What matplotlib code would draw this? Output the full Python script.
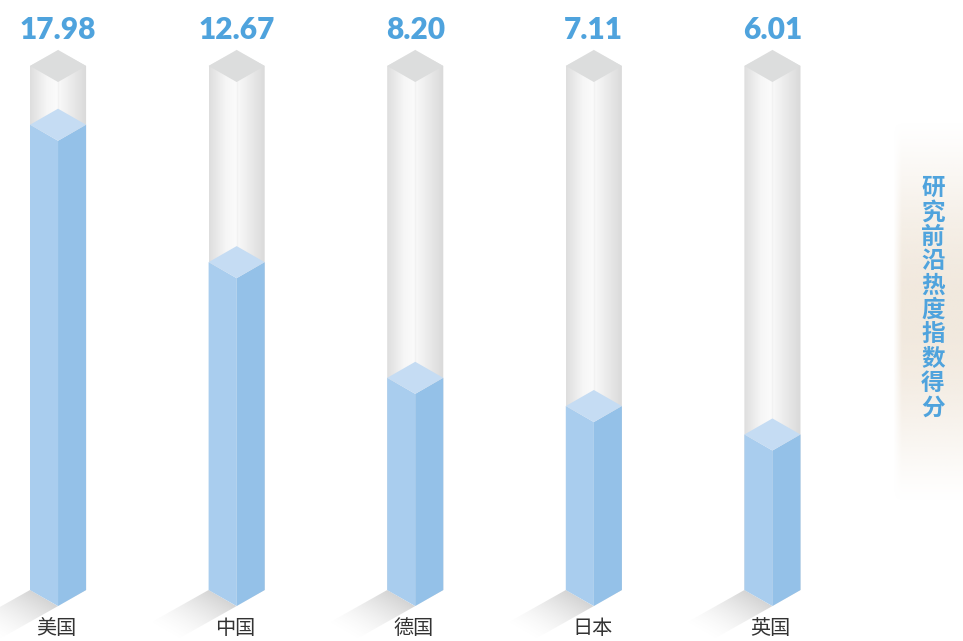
import numpy as np
import matplotlib
matplotlib.use("Agg")
import matplotlib.pyplot as plt
from matplotlib.patches import Polygon
from matplotlib.colors import to_rgb

plt.rcParams['font.family'] = ['Noto Sans CJK SC', 'DejaVu Sans']

countries = ['美国', '中国', '德国', '日本', '英国']
scores = [17.98, 12.67, 8.20, 7.11, 6.01]
score_labels = ['17.98', '12.67', '8.20', '7.11', '6.01']
side_title = '研究前沿热度指数得分'

tube_top = 20.25   # height of the empty glass tube
half_w = 0.157     # half width of a column (category units)
dip = 0.62         # isometric drop of the front edge (value units)
blue = '#4fa3dd'

fig = plt.figure(figsize=(9.63, 6.41), dpi=100)
ax = fig.add_axes([0, 0, 1, 1])
ax.set_xlim(-0.325, 5.067)
ax.set_ylim(-1.97, 22.8)
ax.axis('off')


def hgrad(x0, x1, y0, y1, stops, cols, clip, z):
    # horizontal colour gradient clipped to a polygon
    xs = np.linspace(0, 1, 200)
    rgb = np.array([to_rgb(c) for c in cols])
    img = np.stack([np.interp(xs, stops, rgb[:, k]) for k in range(3)], -1)
    img = np.repeat(img[None, :, :], 2, axis=0)
    im = ax.imshow(img, extent=(x0, x1, y0, y1), aspect='auto',
                   interpolation='bilinear', zorder=z)
    im.set_clip_path(clip)


for i, (name, v, lab) in enumerate(zip(countries, scores, score_labels)):
    c = i
    l, r = c - half_w, c + half_w

    # shadow falling to the lower left
    L, s = 0.34, 1.32
    p0 = np.array([l, 0.0])
    e1 = np.array([half_w, -dip])
    e2 = np.array([-L, -s])
    sh = Polygon([p0, p0 + e1, p0 + e1 + e2, p0 + e2], closed=True,
                 fc='none', ec='none')
    ax.add_patch(sh)
    gx = np.linspace(l - L, c, 120)
    gy = np.linspace(-dip - s, 0, 120)
    X, Y = np.meshgrid(gx, gy)
    M = np.array([e1, e2]).T
    inv = np.linalg.inv(M)
    b = inv[1, 0] * (X - p0[0]) + inv[1, 1] * (Y - p0[1])
    a_ = np.clip(1 - b, 0, 1) ** 1.6 * 0.45
    simg = np.zeros(X.shape + (4,))
    simg[..., :3] = 0.62
    simg[..., 3] = a_
    im = ax.imshow(simg, extent=(gx[0], gx[-1], gy[0], gy[-1]), origin='lower',
                   aspect='auto', interpolation='bilinear', zorder=1)
    im.set_clip_path(sh)

    # glass tube
    tube = Polygon([(l, 0), (c, -dip), (r, 0), (r, tube_top), (c, tube_top + dip),
                    (l, tube_top)], closed=True, fc='none', ec='none')
    ax.add_patch(tube)
    hgrad(l, r, -dip, tube_top + dip, [0, 0.3, 0.48, 0.5, 0.52, 1.0],
          ['#dedede', '#f6f6f6', '#fbfbfb', '#f0f0f0', '#f8f8f8', '#d9d9d9'],
          tube, 2)
    ax.add_patch(Polygon([(l, tube_top), (c, tube_top - dip), (r, tube_top),
                          (c, tube_top + dip)], closed=True, fc='#dcdddd',
                         ec='none', zorder=3))

    # filled column
    ax.add_patch(Polygon([(l, 0), (c, -dip), (c, v - dip), (l, v)], closed=True,
                         fc='#a9cdee', ec='none', zorder=4))
    ax.add_patch(Polygon([(c, -dip), (r, 0), (r, v), (c, v - dip)], closed=True,
                         fc='#94c1e8', ec='none', zorder=4))
    ax.add_patch(Polygon([(l, v), (c, v - dip), (r, v), (c, v + dip)], closed=True,
                         fc='#c5dcf3', ec='none', zorder=5))

    ax.text(c, 21.66, lab, ha='center', va='center', fontsize=21.5,
            fontweight='heavy', color=blue, family=['Lato', 'DejaVu Sans'], zorder=6)
    ax.text(c - 0.01, -1.47, name, ha='center', va='center', fontsize=14.5,
            color='#333333', zorder=6)

# side panel with a soft beige band
px0, px1, py0, py1 = 4.675, 5.067, 3.4, 18.1
ys = np.linspace(0, 1, 200)
xs = np.linspace(0, 1, 60)
Xp, Yp = np.meshgrid(xs, ys)
alpha = np.sin(np.pi * Yp) ** 1.2 * np.clip(Xp / 0.12, 0, 1) * 0.85
pimg = np.zeros(Xp.shape + (4,))
pimg[..., :3] = to_rgb('#efe5d8')
pimg[..., 3] = alpha
ax.imshow(pimg, extent=(px0, px1, py0, py1), origin='lower', aspect='auto',
          interpolation='bilinear', zorder=0)
ax.text(4.899, 11.29, '\n'.join(side_title), ha='center', va='center',
        fontsize=17, fontweight='bold', color=blue, linespacing=1.02, zorder=6)

fig.savefig('out.png', dpi=100)
